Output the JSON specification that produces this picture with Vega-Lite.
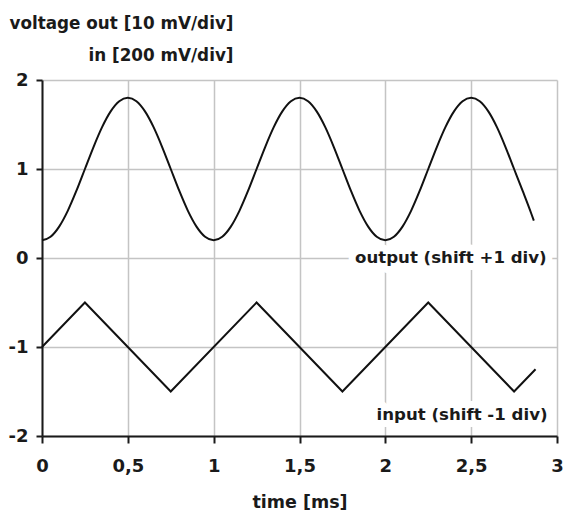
{
  "$schema": "https://vega.github.io/schema/vega-lite/v6.json",
  "width": 515,
  "height": 356,
  "autosize": {"type": "none"},
  "padding": {"left": 42, "top": 80, "right": 6, "bottom": 80},
  "background": "white",
  "config": {"view": {"stroke": null}, "font": "DejaVu Sans"},
  "datasets": {
    "output": [
      {"t": 0, "v": 0.2}, {"t": 0.05, "v": 0.239}, {"t": 0.1, "v": 0.353}, {"t": 0.15, "v": 0.53}, {"t": 0.2, "v": 0.753},
      {"t": 0.25, "v": 1.0}, {"t": 0.3, "v": 1.247}, {"t": 0.35, "v": 1.47}, {"t": 0.4, "v": 1.647}, {"t": 0.45, "v": 1.761},
      {"t": 0.5, "v": 1.8}, {"t": 0.55, "v": 1.761}, {"t": 0.6, "v": 1.647}, {"t": 0.65, "v": 1.47}, {"t": 0.7, "v": 1.247},
      {"t": 0.75, "v": 1.0}, {"t": 0.8, "v": 0.753}, {"t": 0.85, "v": 0.53}, {"t": 0.9, "v": 0.353}, {"t": 0.95, "v": 0.239},
      {"t": 1.0, "v": 0.2}, {"t": 1.05, "v": 0.239}, {"t": 1.1, "v": 0.353}, {"t": 1.15, "v": 0.53}, {"t": 1.2, "v": 0.753},
      {"t": 1.25, "v": 1.0}, {"t": 1.3, "v": 1.247}, {"t": 1.35, "v": 1.47}, {"t": 1.4, "v": 1.647}, {"t": 1.45, "v": 1.761},
      {"t": 1.5, "v": 1.8}, {"t": 1.55, "v": 1.761}, {"t": 1.6, "v": 1.647}, {"t": 1.65, "v": 1.47}, {"t": 1.7, "v": 1.247},
      {"t": 1.75, "v": 1.0}, {"t": 1.8, "v": 0.753}, {"t": 1.85, "v": 0.53}, {"t": 1.9, "v": 0.353}, {"t": 1.95, "v": 0.239},
      {"t": 2.0, "v": 0.2}, {"t": 2.05, "v": 0.239}, {"t": 2.1, "v": 0.353}, {"t": 2.15, "v": 0.53}, {"t": 2.2, "v": 0.753},
      {"t": 2.25, "v": 1.0}, {"t": 2.3, "v": 1.247}, {"t": 2.35, "v": 1.47}, {"t": 2.4, "v": 1.647}, {"t": 2.45, "v": 1.761},
      {"t": 2.5, "v": 1.8}, {"t": 2.55, "v": 1.761}, {"t": 2.6, "v": 1.647}, {"t": 2.65, "v": 1.47}, {"t": 2.7, "v": 1.247},
      {"t": 2.75, "v": 1.0}, {"t": 2.8, "v": 0.753}, {"t": 2.85, "v": 0.5}, {"t": 2.865, "v": 0.42}
    ],
    "input": [
      {"t": 0, "v": -1.0}, {"t": 0.25, "v": -0.5}, {"t": 0.75, "v": -1.5}, {"t": 1.25, "v": -0.5},
      {"t": 1.75, "v": -1.5}, {"t": 2.25, "v": -0.5}, {"t": 2.75, "v": -1.5}, {"t": 2.875, "v": -1.25}
    ],
    "labels": [
      {"t": 2.94, "v": 0.0, "label": "output (shift +1 div)"},
      {"t": 2.945, "v": -1.76, "label": "input (shift -1 div)"}
    ]
  },
  "layer": [
    {
      "data": {"name": "output"},
      "mark": {"type": "line", "interpolate": "monotone", "color": "#111111", "strokeWidth": 2},
      "encoding": {
        "x": {
          "field": "t", "type": "quantitative",
          "scale": {"domain": [0, 3], "nice": false, "zero": false},
          "axis": {
            "values": [0, 0.5, 1, 1.5, 2, 2.5, 3],
            "labelExpr": "replace('' + datum.value, '.', ',')",
            "title": "time [ms]",
            "grid": true, "gridColor": "#c4c4c4", "gridWidth": 1.5,
            "domainColor": "#1a1a1a", "domainWidth": 2,
            "tickColor": "#1a1a1a", "tickWidth": 2, "tickSize": 7,
            "labelFont": "DejaVu Sans", "labelFontWeight": "bold", "labelFontSize": 18, "labelColor": "#1a1a1a",
            "labelPadding": 14, "labelFlush": false, "labelOverlap": false,
            "titleFont": "DejaVu Sans", "titleFontWeight": "bold", "titleFontSize": 17.5, "titleColor": "#1a1a1a",
            "titleBaseline": "alphabetic", "titleX": 257.5, "titleY": 71.5
          }
        },
        "y": {
          "field": "v", "type": "quantitative",
          "scale": {"domain": [-2, 2], "nice": false, "zero": false},
          "axis": {
            "values": [-2, -1, 0, 1, 2],
            "labelExpr": "'' + datum.value",
            "title": ["voltage out [10 mV/div]", "in [200 mV/div]"],
            "grid": true, "gridColor": "#c4c4c4", "gridWidth": 1.5,
            "domainColor": "#1a1a1a", "domainWidth": 2,
            "tickColor": "#1a1a1a", "tickWidth": 2, "tickSize": 6,
            "labelFont": "DejaVu Sans", "labelFontWeight": "bold", "labelFontSize": 18, "labelColor": "#1a1a1a",
            "labelPadding": 8, "labelFlush": false, "labelOverlap": false,
            "titleFont": "DejaVu Sans", "titleFontWeight": "bold", "titleFontSize": 16.8, "titleColor": "#1a1a1a",
            "titleAngle": 0, "titleAlign": "right", "titleBaseline": "alphabetic",
            "titleX": 191, "titleY": -51.5, "titleLineHeight": 31.7
          }
        }
      }
    },
    {
      "data": {"name": "input"},
      "mark": {"type": "line", "color": "#111111", "strokeWidth": 2},
      "encoding": {
        "x": {"field": "t", "type": "quantitative", "scale": {"domain": [0, 3], "nice": false, "zero": false}},
        "y": {"field": "v", "type": "quantitative", "scale": {"domain": [-2, 2], "nice": false, "zero": false}}
      }
    },
    {
      "data": {"name": "labels"},
      "mark": {"type": "text", "align": "right", "baseline": "middle", "font": "DejaVu Sans", "fontWeight": "bold", "fontSize": 16.6, "fill": "white", "stroke": "white", "strokeWidth": 14, "strokeJoin": "round"},
      "encoding": {
        "x": {"field": "t", "type": "quantitative"},
        "y": {"field": "v", "type": "quantitative"},
        "text": {"field": "label"}
      }
    },
    {
      "data": {"name": "labels"},
      "mark": {"type": "text", "align": "right", "baseline": "middle", "font": "DejaVu Sans", "fontWeight": "bold", "fontSize": 16.6, "color": "#1a1a1a"},
      "encoding": {
        "x": {"field": "t", "type": "quantitative"},
        "y": {"field": "v", "type": "quantitative"},
        "text": {"field": "label"}
      }
    }
  ]
}
